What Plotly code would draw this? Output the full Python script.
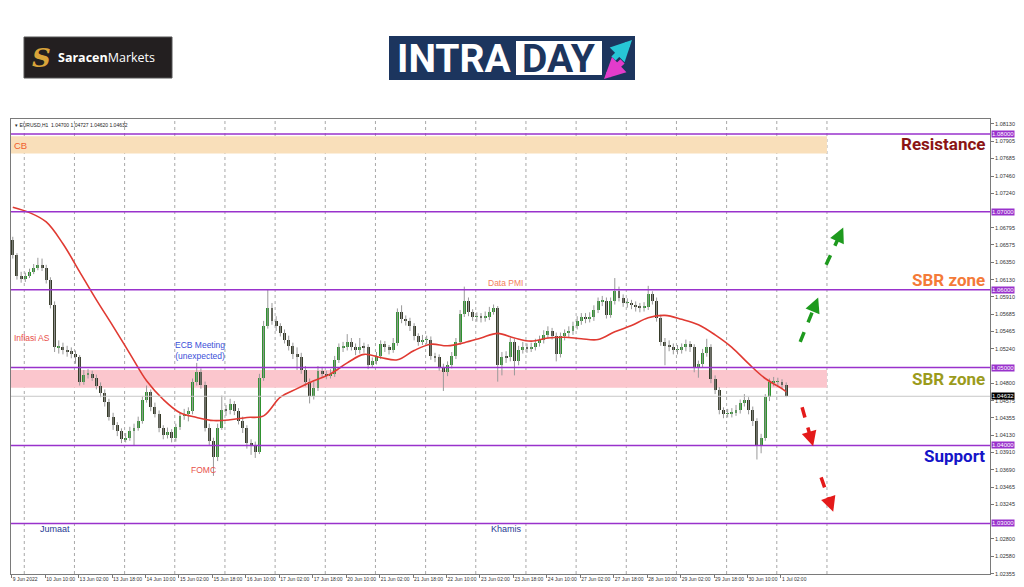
import pandas as pd
import plotly.graph_objects as go

# EURUSD, grouped into 2-hour candles (first opens 9 Jun 2022 18:00)
OPEN = [
    1.0664, 1.0644, 1.0618, 1.0614, 1.0618, 1.0623, 1.0628, 1.0632, 1.0628, 1.0613,
    1.0581, 1.0526, 1.0526, 1.0523, 1.0521, 1.0518, 1.0513, 1.0481, 1.0491, 1.0492,
    1.0487, 1.0477, 1.0467, 1.0456, 1.0437, 1.0426, 1.0418, 1.0408, 1.0410, 1.0418,
    1.0423, 1.0431, 1.0459, 1.0469, 1.0449, 1.0441, 1.0422, 1.0413, 1.0417, 1.0409,
    1.0424, 1.0438, 1.0441, 1.0444, 1.0481, 1.0494, 1.0478, 1.0423, 1.0406, 1.0385,
    1.0423, 1.0446, 1.0445, 1.0453, 1.0444, 1.0432, 1.0422, 1.0403, 1.0400, 1.0392,
    1.0487, 1.0554, 1.0577, 1.0560, 1.0553, 1.0545, 1.0536, 1.0528, 1.0517, 1.0514,
    1.0497, 1.0481, 1.0463, 1.0474, 1.0496, 1.0492, 1.0490, 1.0492, 1.0510, 1.0526,
    1.0527, 1.0533, 1.0527, 1.0522, 1.0527, 1.0526, 1.0503, 1.0508, 1.0515, 1.0530,
    1.0526, 1.0523, 1.0532, 1.0571, 1.0562, 1.0560, 1.0553, 1.0540, 1.0533, 1.0536,
    1.0536, 1.0515, 1.0513, 1.0501, 1.0494, 1.0503, 1.0515, 1.0533, 1.0569, 1.0585,
    1.0571, 1.0565, 1.0565, 1.0564, 1.0565, 1.0572, 1.0576, 1.0503, 1.0514, 1.0513,
    1.0533, 1.0508, 1.0523, 1.0527, 1.0524, 1.0527, 1.0532, 1.0536, 1.0542, 1.0547,
    1.0541, 1.0517, 1.0540, 1.0544, 1.0547, 1.0554, 1.0560, 1.0565, 1.0563, 1.0565,
    1.0574, 1.0585, 1.0586, 1.0568, 1.0585, 1.0599, 1.0590, 1.0583, 1.0583, 1.0581,
    1.0578, 1.0577, 1.0578, 1.0594, 1.0586, 1.0564, 1.0533, 1.0528, 1.0527, 1.0523,
    1.0523, 1.0526, 1.0530, 1.0526, 1.0499, 1.0504, 1.0519, 1.0526, 1.0485, 1.0471,
    1.0445, 1.0441, 1.0441, 1.0442, 1.0446, 1.0454, 1.0458, 1.0445, 1.0431, 1.0399,
    1.0410, 1.0462, 1.0481, 1.0482, 1.0482, 1.0478,
]
HIGH = [
    1.0668, 1.0647, 1.0623, 1.0622, 1.0627, 1.0633, 1.0641, 1.0640, 1.0632, 1.0616,
    1.0585, 1.0535, 1.0532, 1.0528, 1.0526, 1.0522, 1.0516, 1.0497, 1.0498, 1.0496,
    1.0491, 1.0481, 1.0472, 1.0460, 1.0442, 1.0430, 1.0422, 1.0416, 1.0424, 1.0428,
    1.0437, 1.0463, 1.0477, 1.0472, 1.0455, 1.0445, 1.0426, 1.0423, 1.0421, 1.0428,
    1.0443, 1.0447, 1.0449, 1.0486, 1.0506, 1.0499, 1.0482, 1.0428, 1.0410, 1.0428,
    1.0464, 1.0452, 1.0460, 1.0457, 1.0448, 1.0437, 1.0426, 1.0408, 1.0405, 1.0492,
    1.0560, 1.0600, 1.0583, 1.0566, 1.0557, 1.0549, 1.0541, 1.0532, 1.0526, 1.0519,
    1.0502, 1.0486, 1.0482, 1.0502, 1.0501, 1.0496, 1.0498, 1.0515, 1.0531, 1.0533,
    1.0543, 1.0538, 1.0531, 1.0538, 1.0532, 1.0530, 1.0513, 1.0520, 1.0535, 1.0534,
    1.0529, 1.0538, 1.0576, 1.0580, 1.0567, 1.0564, 1.0557, 1.0544, 1.0542, 1.0541,
    1.0540, 1.0519, 1.0517, 1.0505, 1.0508, 1.0520, 1.0538, 1.0574, 1.0604, 1.0590,
    1.0575, 1.0571, 1.0570, 1.0572, 1.0578, 1.0581, 1.0579, 1.0520, 1.0521, 1.0539,
    1.0537, 1.0528, 1.0533, 1.0531, 1.0532, 1.0537, 1.0541, 1.0548, 1.0553, 1.0551,
    1.0545, 1.0545, 1.0549, 1.0553, 1.0559, 1.0566, 1.0570, 1.0570, 1.0571, 1.0580,
    1.0590, 1.0592, 1.0590, 1.0590, 1.0615, 1.0604, 1.0594, 1.0589, 1.0587, 1.0585,
    1.0583, 1.0584, 1.0605, 1.0598, 1.0590, 1.0568, 1.0538, 1.0535, 1.0531, 1.0529,
    1.0531, 1.0536, 1.0534, 1.0530, 1.0509, 1.0524, 1.0537, 1.0530, 1.0490, 1.0475,
    1.0449, 1.0447, 1.0448, 1.0452, 1.0459, 1.0466, 1.0462, 1.0450, 1.0435, 1.0415,
    1.0466, 1.0486, 1.0488, 1.0487, 1.0485, 1.0481,
]
LOW = [
    1.0640, 1.0613, 1.0609, 1.0610, 1.0615, 1.0620, 1.0625, 1.0624, 1.0608, 1.0576,
    1.0520, 1.0518, 1.0517, 1.0514, 1.0512, 1.0505, 1.0477, 1.0478, 1.0486, 1.0483,
    1.0472, 1.0462, 1.0450, 1.0432, 1.0420, 1.0412, 1.0403, 1.0404, 1.0406, 1.0400,
    1.0419, 1.0428, 1.0455, 1.0444, 1.0436, 1.0417, 1.0408, 1.0409, 1.0404, 1.0405,
    1.0420, 1.0433, 1.0431, 1.0440, 1.0477, 1.0473, 1.0418, 1.0400, 1.0361, 1.0380,
    1.0420, 1.0438, 1.0440, 1.0439, 1.0427, 1.0416, 1.0396, 1.0388, 1.0384, 1.0389,
    1.0483, 1.0550, 1.0555, 1.0547, 1.0540, 1.0531, 1.0522, 1.0511, 1.0497, 1.0492,
    1.0476, 1.0454, 1.0459, 1.0470, 1.0487, 1.0485, 1.0486, 1.0488, 1.0506, 1.0520,
    1.0522, 1.0522, 1.0516, 1.0518, 1.0519, 1.0498, 1.0500, 1.0504, 1.0511, 1.0520,
    1.0517, 1.0519, 1.0528, 1.0557, 1.0554, 1.0547, 1.0535, 1.0528, 1.0529, 1.0530,
    1.0510, 1.0507, 1.0496, 1.0470, 1.0489, 1.0499, 1.0511, 1.0529, 1.0565, 1.0566,
    1.0560, 1.0559, 1.0558, 1.0559, 1.0561, 1.0568, 1.0482, 1.0490, 1.0506, 1.0508,
    1.0490, 1.0503, 1.0518, 1.0519, 1.0520, 1.0522, 1.0527, 1.0531, 1.0537, 1.0536,
    1.0508, 1.0513, 1.0535, 1.0539, 1.0542, 1.0549, 1.0555, 1.0557, 1.0558, 1.0560,
    1.0570, 1.0579, 1.0563, 1.0564, 1.0581, 1.0585, 1.0578, 1.0577, 1.0575, 1.0572,
    1.0571, 1.0572, 1.0574, 1.0581, 1.0559, 1.0528, 1.0503, 1.0521, 1.0517, 1.0517,
    1.0518, 1.0521, 1.0520, 1.0494, 1.0487, 1.0500, 1.0514, 1.0480, 1.0466, 1.0440,
    1.0435, 1.0436, 1.0436, 1.0438, 1.0441, 1.0450, 1.0440, 1.0425, 1.0382, 1.0390,
    1.0406, 1.0457, 1.0476, 1.0475, 1.0472, 1.0462,
]
CLOSE = [
    1.0644, 1.0618, 1.0614, 1.0618, 1.0623, 1.0628, 1.0632, 1.0628, 1.0613, 1.0581,
    1.0526, 1.0526, 1.0523, 1.0521, 1.0518, 1.0513, 1.0481, 1.0491, 1.0492, 1.0487,
    1.0477, 1.0467, 1.0456, 1.0437, 1.0426, 1.0418, 1.0408, 1.0410, 1.0418, 1.0423,
    1.0431, 1.0459, 1.0469, 1.0449, 1.0441, 1.0422, 1.0413, 1.0417, 1.0409, 1.0424,
    1.0438, 1.0441, 1.0444, 1.0481, 1.0494, 1.0478, 1.0423, 1.0406, 1.0385, 1.0423,
    1.0446, 1.0445, 1.0453, 1.0444, 1.0432, 1.0422, 1.0403, 1.0400, 1.0392, 1.0487,
    1.0554, 1.0577, 1.0560, 1.0553, 1.0545, 1.0536, 1.0528, 1.0517, 1.0514, 1.0497,
    1.0481, 1.0463, 1.0474, 1.0496, 1.0492, 1.0490, 1.0492, 1.0510, 1.0526, 1.0527,
    1.0533, 1.0527, 1.0522, 1.0527, 1.0526, 1.0503, 1.0508, 1.0515, 1.0530, 1.0526,
    1.0523, 1.0532, 1.0571, 1.0562, 1.0560, 1.0553, 1.0540, 1.0533, 1.0536, 1.0536,
    1.0515, 1.0513, 1.0501, 1.0494, 1.0503, 1.0515, 1.0533, 1.0569, 1.0585, 1.0571,
    1.0565, 1.0565, 1.0564, 1.0565, 1.0572, 1.0576, 1.0503, 1.0514, 1.0513, 1.0533,
    1.0508, 1.0523, 1.0527, 1.0524, 1.0527, 1.0532, 1.0536, 1.0542, 1.0547, 1.0541,
    1.0517, 1.0540, 1.0544, 1.0547, 1.0554, 1.0560, 1.0565, 1.0563, 1.0565, 1.0574,
    1.0585, 1.0586, 1.0568, 1.0585, 1.0599, 1.0590, 1.0583, 1.0583, 1.0581, 1.0578,
    1.0577, 1.0578, 1.0594, 1.0586, 1.0564, 1.0533, 1.0528, 1.0527, 1.0523, 1.0523,
    1.0526, 1.0530, 1.0526, 1.0499, 1.0504, 1.0519, 1.0526, 1.0485, 1.0471, 1.0445,
    1.0441, 1.0441, 1.0442, 1.0446, 1.0454, 1.0458, 1.0445, 1.0431, 1.0399, 1.0410,
    1.0462, 1.0481, 1.0482, 1.0482, 1.0478, 1.0463,
]

# red moving average, read at every 4th candle
MA_CANDLE = [0, 4, 8, 12, 16, 20, 24, 28, 32, 36, 40, 44, 48, 52, 56, 60, 64, 68, 72, 76,
             80, 84, 88, 92, 96, 100, 104, 108, 112, 116, 120, 124, 128, 132, 136, 140,
             144, 148, 152, 156, 160, 164, 168, 172, 176, 180, 184, 185]
MA_VALUE = [1.0706, 1.0699, 1.0687, 1.0659, 1.0623, 1.0587, 1.0553, 1.0518, 1.0483, 1.0459,
            1.0442, 1.0436, 1.0432, 1.0433, 1.0436, 1.0438, 1.0462, 1.0473, 1.0483, 1.0492,
            1.0506, 1.0517, 1.0513, 1.0510, 1.0522, 1.0530, 1.0528, 1.0532, 1.0538, 1.0544,
            1.0538, 1.0534, 1.0538, 1.0539, 1.0537, 1.0536, 1.0546, 1.0554, 1.0564, 1.0567,
            1.0562, 1.0555, 1.0542, 1.0526, 1.0505, 1.0486, 1.0473, 1.0469]

LEVELS = [1.08, 1.07, 1.06, 1.05, 1.04, 1.03]
LAST_PRICE = 1.04632
CB_ZONE = [1.0775, 1.0797]
SBR_ZONE = [1.0474, 1.0497]

# price scale labels (the ones under the level tags are hidden on the original)
Y_TICKS = [1.08130, 1.07905, 1.07685, 1.07460, 1.07240, 1.06795, 1.06575, 1.06350,
           1.06130, 1.05910, 1.05685, 1.05465, 1.05240, 1.04800, 1.04575, 1.04355,
           1.04130, 1.03910, 1.03690, 1.03465, 1.03245, 1.02800, 1.02580, 1.02355]
X_TICK_LABELS = ["9 Jun 2022", "10 Jun 10:00", "13 Jun 02:00", "13 Jun 18:00", "14 Jun 10:00",
                 "15 Jun 02:00", "15 Jun 18:00", "16 Jun 10:00", "17 Jun 02:00", "17 Jun 18:00",
                 "20 Jun 10:00", "21 Jun 02:00", "21 Jun 18:00", "22 Jun 10:00", "23 Jun 02:00",
                 "23 Jun 18:00", "24 Jun 10:00", "27 Jun 02:00", "27 Jun 18:00", "28 Jun 10:00",
                 "29 Jun 02:00", "29 Jun 18:00", "30 Jun 10:00", "1 Jul 02:00"]

assert len(OPEN) == len(HIGH) == len(LOW) == len(CLOSE)

BULL = "#2f922f"
BEAR = "#353a28"
WICK = "#999999"
PURPLE = "#9932CC"
FONT = "Liberation Sans"

# x axis in hours since the first H1 bar; each candle covers two hours
hours = pd.date_range("2022-06-09 18:00", "2022-07-04 00:00", freq="h")
hours = hours[hours.weekday < 5]
midnights = [i for i, t in enumerate(hours) if t.hour == 0]
xc = [2 * k + 0.5 for k in range(len(CLOSE))]
ma_x = [2 * k + 0.5 for k in MA_CANDLE]

X_RANGE = [-0.35, 468]
Y_RANGE = [1.0235, 1.08192]

# pixel -> paper helpers for the page furniture
L, R, T, B = 11, 990, 119, 574
def px(x): return (x - L) / (R - L)
def py(y): return (B - y) / (B - T)

wx, wy = [], []
for x, h, l in zip(xc, HIGH, LOW):
    wx += [x, x, None]
    wy += [l, h, None]

fig = go.Figure()
fig.add_trace(go.Scatter(x=wx, y=wy, mode="lines", line=dict(color=WICK, width=1),
                         hoverinfo="skip", showlegend=False))
fig.add_trace(go.Bar(
    x=xc,
    base=[min(o, c) for o, c in zip(OPEN, CLOSE)],
    y=[max(abs(c - o), 0.00006) for o, c in zip(OPEN, CLOSE)],
    width=1.4,
    marker=dict(color=[BULL if c >= o else BEAR for o, c in zip(OPEN, CLOSE)], line_width=0),
    hoverinfo="skip", showlegend=False,
))
fig.add_trace(go.Scatter(x=ma_x, y=MA_VALUE, mode="lines", line=dict(color="#e03a32", width=1.6, shape="spline"),
                         hoverinfo="skip", showlegend=False))

# zones
fig.add_shape(type="rect", xref="x", yref="y", x0=X_RANGE[0], x1=390, y0=CB_ZONE[0], y1=CB_ZONE[1],
              fillcolor="#f9dfba", line_width=0, layer="below")
fig.add_shape(type="rect", xref="x", yref="y", x0=X_RANGE[0], x1=390, y0=SBR_ZONE[0], y1=SBR_ZONE[1],
              fillcolor="#fbc6cd", line_width=0, layer="below")

# day separators
for m in midnights:
    fig.add_shape(type="line", xref="x", yref="paper", x0=m, x1=m, y0=0, y1=1,
                  line=dict(color="#a8a8a8", width=1, dash="dot"), layer="below")

# current price
fig.add_shape(type="line", xref="paper", yref="y", x0=0, x1=1, y0=LAST_PRICE, y1=LAST_PRICE,
              line=dict(color="#c8c8c8", width=1))
fig.add_annotation(xref="paper", yref="y", x=1, y=LAST_PRICE, xanchor="left", yanchor="middle", xshift=1,
                   text=f"{LAST_PRICE:.5f}", showarrow=False, bgcolor="#000000",
                   font=dict(family=FONT, size=6, color="white"), borderpad=0)

# horizontal levels
for lv in LEVELS:
    fig.add_shape(type="line", xref="paper", yref="y", x0=0, x1=1, y0=lv, y1=lv,
                  line=dict(color=PURPLE, width=1.5))
    fig.add_annotation(xref="paper", yref="y", x=1, y=lv, xanchor="left", yanchor="middle", xshift=1,
                       text=f"{lv:.5f}", showarrow=False, bgcolor=PURPLE,
                       font=dict(family=FONT, size=6, color="white"), borderpad=0)

# event notes
notes = [
    ("CB", 0.2, 1.07846, "left", "#f0602c", 9.5),
    ("Inflasi AS", 0.2, 1.05385, "left", "#e8504a", 8.5),
    ("ECB Meeting<br>(unexpected)", 90, 1.05218, "center", "#3b4fd8", 8.5),
    ("FOMC", 91.5, 1.0368, "center", "#e8504a", 8.5),
    ("Data PMI", 236, 1.0609, "center", "#f4805c", 8.5),
    ("Jumaat", 12.6, 1.02923, "left", "#1f3a93", 9),
    ("Khamis", 228.4, 1.02923, "left", "#1f3a93", 9),
]
for txt, x, y, anc, col, size in notes:
    fig.add_annotation(x=x, y=y, text=txt, showarrow=False, xanchor=anc, yanchor="middle",
                       font=dict(family=FONT, size=size, color=col))

# zone labels on the right
zone_labels = [
    ("Resistance", 1.0787, "#8b1414"),
    ("SBR zone", 1.0612, "#f47a38"),
    ("SBR zone", 1.0485, "#9b9b1c"),
    ("Support", 1.0386, "#1414c8"),
]
for txt, y, col in zone_labels:
    fig.add_annotation(xref="paper", x=px(987), y=y, text=f"<b>{txt}</b>", showarrow=False,
                       xanchor="right", yanchor="middle", font=dict(family="Roboto", size=17, color=col))

# scenario arrows (dashed)
arrows = [
    (377.2, 1.0533, 385.8, 1.0590, "#1e9a1e"),
    (389.6, 1.0632, 397.8, 1.0680, "#1e9a1e"),
    (378.1, 1.0449, 383.4, 1.0399, "#e41a1a"),
    (387.2, 1.0359, 393.0, 1.0315, "#e41a1a"),
]
for x0, y0, x1, y1, col in arrows:
    fig.add_shape(type="line", xref="x", yref="y", x0=x0, y0=y0,
                  x1=x0 + 0.85 * (x1 - x0), y1=y0 + 0.85 * (y1 - y0),
                  line=dict(color=col, width=3.5, dash="dash"))
    fig.add_annotation(x=x1, y=y1, ax=x0 + 0.7 * (x1 - x0), ay=y0 + 0.7 * (y1 - y0),
                       axref="x", ayref="y", text="", showarrow=True, arrowhead=2,
                       arrowsize=1, arrowwidth=3, arrowcolor=col)

# chart header
fig.add_annotation(xref="paper", yref="paper", x=px(13), y=py(120), xanchor="left", yanchor="top",
                   text="▾ EURUSD,H1  1.04700 1.04727 1.04620 1.04632", showarrow=False,
                   font=dict(family=FONT, size=5, color="#222"))

# logos
fig.add_shape(type="rect", xref="paper", yref="paper", x0=px(24), x1=px(172), y0=py(78), y1=py(37),
              fillcolor="#231f20", line=dict(color="#555", width=1))
fig.add_annotation(xref="paper", yref="paper", x=px(41), y=py(58), xanchor="center", yanchor="middle",
                   text="<b><i>S</i></b>", showarrow=False,
                   font=dict(family="DejaVu Serif", size=26, color="#d9a43a"))
fig.add_annotation(xref="paper", yref="paper", x=px(56), y=py(57), xanchor="left", yanchor="middle",
                   text="<b>Saracen</b>Markets", showarrow=False,
                   font=dict(family="Open Sans", size=12.5, color="white"))

fig.add_shape(type="rect", xref="paper", yref="paper", x0=px(389), x1=px(635), y0=py(80), y1=py(36),
              fillcolor="#1c355e", line_width=0)
fig.add_shape(type="rect", xref="paper", yref="paper", x0=px(516), x1=px(602), y0=py(75), y1=py(41),
              fillcolor="white", line_width=0)
fig.add_annotation(xref="paper", yref="paper", x=px(454), y=py(59), xanchor="center", yanchor="middle",
                   text="<b>INTRA</b>", showarrow=False, font=dict(family="Roboto", size=39, color="white"))
fig.add_annotation(xref="paper", yref="paper", x=px(559), y=py(59), xanchor="center", yanchor="middle",
                   text="<b>DAY</b>", showarrow=False, font=dict(family="Roboto", size=39, color="#1c355e"))
fig.add_annotation(xref="paper", yref="paper", x=px(632), y=py(40), ax=-20, ay=20, text="",
                   showarrow=True, arrowhead=2, arrowsize=0.7, arrowwidth=6, arrowcolor="#27c6d6")
fig.add_annotation(xref="paper", yref="paper", x=px(604), y=py(79), ax=20, ay=-19, text="",
                   showarrow=True, arrowhead=2, arrowsize=0.7, arrowwidth=6, arrowcolor="#e23ccb")

fig.update_layout(
    width=1024, height=587, autosize=False,
    plot_bgcolor="white", paper_bgcolor="white",
    margin=dict(l=L, r=1024 - R, t=T, b=587 - B, pad=0),
    showlegend=False, bargap=0,
    xaxis=dict(
        range=X_RANGE, tickvals=[16 * i for i in range(len(X_TICK_LABELS))], ticktext=X_TICK_LABELS,
        ticklabelposition="outside right", tickangle=0, ticks="outside", ticklen=3, tickcolor="#777",
        tickfont=dict(family=FONT, size=5, color="#333"), automargin=False,
        showgrid=False, zeroline=False, showline=True, linecolor="#7a7a7a", mirror=True,
    ),
    yaxis=dict(
        range=Y_RANGE, side="right", tickvals=Y_TICKS, ticktext=[f"{v:.5f}" for v in Y_TICKS],
        ticks="outside", ticklen=3, tickcolor="#777", automargin=False,
        tickfont=dict(family=FONT, size=5.5, color="#333"),
        showgrid=False, zeroline=False, showline=True, linecolor="#7a7a7a", mirror=True,
    ),
)

fig.write_html("out.html", config={"displayModeBar": False},
               post_script="document.body.style.margin='0';")
